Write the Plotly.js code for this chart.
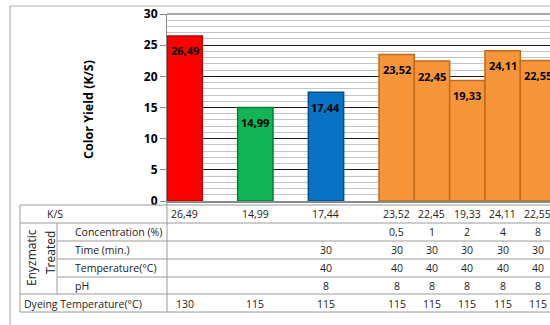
<!DOCTYPE html>
<html>
<head>
<meta charset="utf-8">
<script src="https://cdn.plot.ly/plotly-3.0.1.min.js"></script>
<style>
html,body{margin:0;padding:0;background:#fff;overflow:hidden;}
#chart{width:550px;height:325px;}
</style>
</head>
<body>
<div id="chart"></div>
<script>
// ---- data (one entry per table column; empty columns kept as blanks) ----
const ksValues      = [26.49, null, 14.99, null, 17.44, null, 23.52, 22.45, 19.33, 24.11, 22.55];
const concentration = ['', '', '', '', '', '', '0,5', '1', '2', '4', '8'];
const timeMin       = ['', '', '', '', '30', '', '30', '30', '30', '30', '30'];
const enzTemp       = ['', '', '', '', '40', '', '40', '40', '40', '40', '40'];
const phValues      = ['', '', '', '', '8', '', '8', '8', '8', '8', '8'];
const dyeingTemp    = ['130', '', '115', '', '115', '', '115', '115', '115', '115', '115'];
const rowLabels     = ['K/S', 'Concentration (%)', 'Time (min.)', 'Temperature(°C)', 'pH', 'Dyeing Temperature(°C)'];
const groupLabel    = ['Enyzmatic', 'Treated'];
const yTitle        = 'Color Yield (K/S)';

// ---- styles ----
const fillColors = ['#ff0000', null, '#12b354', null, '#0a72c4', null, '#f7953a', '#f7953a', '#f7953a', '#f7953a', '#f7953a'];
const edgeColors = ['#b80000', null, '#0a7a3a', null, '#064f8c', null, '#c06a1c', '#c06a1c', '#c06a1c', '#c06a1c', '#c06a1c'];

const W = 550, H = 325;
const L = 167, T = 14, B = 201;        // plot area pixel edges
const PW = W - L, PH = B - T;
const px = X => (X - L) / PW;
const py = Y => (B - Y) / PH;
const fmt = v => v == null ? '' : v.toFixed(2).replace('.', ',');
const idx = ksValues.map((_, i) => i);

const FONT = 'Open Sans, Noto Sans, sans-serif';

const trace = {
  type: 'bar',
  x: idx,
  y: ksValues,
  width: 1,
  marker: {color: fillColors.map(c => c || 'rgba(0,0,0,0)'),
           line: {color: edgeColors.map(c => c || 'rgba(0,0,0,0)'), width: 1.5}},
  hoverinfo: 'skip'
};

const annotations = [];
// bar value labels
ksValues.forEach((v, i) => {
  if (v == null) return;
  annotations.push({x: i, y: v, xref: 'x', yref: 'y', text: '<b>' + fmt(v) + '</b>',
    xanchor: 'center', yanchor: 'middle',
    showarrow: false, yshift: -15, font: {family: FONT, size: 11, color: '#000'}});
});
// y title
annotations.push({x: px(88), y: py(110), xref: 'paper', yref: 'paper', text: '<b>' + yTitle + '</b>',
  xanchor: 'center', yanchor: 'middle',
  textangle: -90, showarrow: false, font: {family: FONT, size: 12.5, color: '#000'}});

// table rows
const rowY = [214, 232, 250, 268, 286, 304];
const rows = [ksValues.map(fmt), concentration, timeMin, enzTemp, phValues, dyeingTemp];
rows.forEach((r, k) => {
  r.forEach((t, i) => {
    if (t === '') return;
    annotations.push({x: i, y: py(rowY[k]), xref: 'x', yref: 'paper', text: t, showarrow: false,
      xanchor: 'center', yanchor: 'middle',
      font: {family: FONT, size: 10.5, color: '#222'}});
  });
});
// row labels
const labelX = [55, 73, 73, 73, 73, 22];
const labelAnchor = ['center', 'left', 'left', 'left', 'left', 'left'];
rowLabels.forEach((t, k) => {
  annotations.push({x: px(labelX[k]), y: py(rowY[k]), xref: 'paper', yref: 'paper', text: t,
    xanchor: labelAnchor[k], yanchor: 'middle', showarrow: false, font: {family: FONT, size: 10.5, color: '#222'}});
});
// rotated group label
annotations.push({x: px(31), y: py(258), xref: 'paper', yref: 'paper', text: groupLabel[0], textangle: -90,
  xanchor: 'center', yanchor: 'middle',
  showarrow: false, font: {family: FONT, size: 12, color: '#222'}});
annotations.push({x: px(50), y: py(252), xref: 'paper', yref: 'paper', text: groupLabel[1], textangle: -90,
  xanchor: 'center', yanchor: 'middle',
  showarrow: false, font: {family: FONT, size: 12, color: '#222'}});

// table lines (pixel geometry)
const line = (x0, y0, x1, y1, c, w) => ({type: 'line', xref: 'paper', yref: 'paper',
  x0: px(x0), y0: py(y0), x1: px(x1), y1: py(y1), line: {color: c || '#9a9a9a', width: w || 1}});
const shapes = [
  line(20, 205, 560, 205), line(20, 223, 560, 223),
  line(57, 241, 560, 241), line(57, 259, 560, 259), line(57, 277, 560, 277),
  line(20, 294, 560, 294), line(20, 312, 560, 312),
  line(20, 205, 20, 312), line(57, 223, 57, 294), line(167, 201, 167, 312),
  line(167, 14, 560, 14, '#8a8a8a', 1.5),
  // outer chart frame
  line(10, 6, 560, 6, '#b0b0b0', 1), line(10, 6, 10, 330, '#a0a0a0', 1)
];

const layout = {
  width: W, height: H,
  margin: {l: L, r: 0, t: T, b: H - B, pad: 0},
  paper_bgcolor: '#fff', plot_bgcolor: '#fff',
  showlegend: false,
  bargap: 0,
  xaxis: {range: [-0.5, 10.34], showgrid: false, zeroline: false,
          showticklabels: false, ticks: '', showline: true, linecolor: '#8a8a8a', linewidth: 1.5, fixedrange: true},
  yaxis: {range: [0, 30], dtick: 5, showgrid: true, gridcolor: '#1a1a1a', gridwidth: 1,
          minor: {dtick: 1, showgrid: true, gridcolor: '#c4c4c4', gridwidth: 1},
          zeroline: false, showline: true, linecolor: '#8a8a8a', linewidth: 1,
          ticks: 'outside', ticklen: 6, tickcolor: '#8a8a8a',
          tickfont: {family: FONT, size: 12, color: '#000', weight: 'bold'}, fixedrange: true},
  annotations: annotations,
  shapes: shapes
};

Plotly.newPlot('chart', [trace], layout, {displayModeBar: false, staticPlot: true});
</script>
</body>
</html>
